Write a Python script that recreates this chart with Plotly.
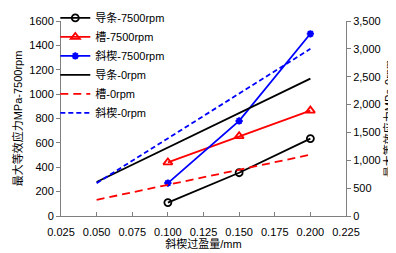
import plotly.graph_objects as go

x_7500 = [0.10, 0.15, 0.20]
x_0 = [0.05, 0.10, 0.15, 0.20]

daotiao_7500 = [110, 355, 635]
cao_7500 = [440, 655, 865]
xiexie_7500 = [270, 780, 1495]

daotiao_0 = [610, 1230, 1850, 2465]
cao_0 = [290, 560, 830, 1100]
xiexie_0 = [590, 1395, 2200, 3000]

x_ticks = [0.025, 0.050, 0.075, 0.100, 0.125, 0.150, 0.175, 0.200, 0.225]

FONT = "Liberation Sans, Noto Sans CJK SC, sans-serif"

fig = go.Figure()
fig.add_trace(go.Scatter(x=x_7500, y=daotiao_7500, name="导条-7500rpm", mode="lines+markers",
                         line=dict(color="black", width=1.8),
                         marker=dict(symbol="circle-open", size=7, color="black", line=dict(width=1.8))))
fig.add_trace(go.Scatter(x=x_7500, y=cao_7500, name="槽-7500rpm", mode="lines+markers",
                         line=dict(color="#ff0000", width=1.8),
                         marker=dict(symbol="triangle-up-open", size=8, color="#ff0000", line=dict(width=1.8))))
fig.add_trace(go.Scatter(x=x_7500, y=xiexie_7500, name="斜楔-7500rpm", mode="lines+markers",
                         line=dict(color="#0000ff", width=1.8),
                         marker=dict(symbol="asterisk-open", size=6, color="#0000ff", line=dict(width=2, color="#0000ff"))))
fig.add_trace(go.Scatter(x=x_0, y=daotiao_0, name="导条-0rpm", mode="lines", yaxis="y2",
                         line=dict(color="black", width=1.8)))
fig.add_trace(go.Scatter(x=x_0, y=cao_0, name="槽-0rpm", mode="lines", yaxis="y2",
                         line=dict(color="#ff0000", width=1.8, dash="8px,5px")))
fig.add_trace(go.Scatter(x=x_0, y=xiexie_0, name="斜楔-0rpm", mode="lines", yaxis="y2",
                         line=dict(color="#0000ff", width=1.8, dash="5px,3px")))

axis_common = dict(showgrid=False, zeroline=False, showline=True, linecolor="#808080", linewidth=1,
                   ticks="outside", ticklen=4, tickcolor="#808080", automargin=False,
                   tickfont=dict(family=FONT, size=11, color="black"))

fig.update_layout(
    width=396, height=253,
    margin=dict(l=53, r=58, t=13, b=45, autoexpand=False),
    paper_bgcolor="white", plot_bgcolor="white",
    font=dict(family=FONT, size=11, color="black"),
    showlegend=True,
    legend=dict(x=-0.02, y=1.09, xanchor="left", yanchor="top", bgcolor="rgba(0,0,0,0)",
                font=dict(family=FONT, size=11, color="black"), traceorder="normal",
                tracegroupgap=0),
    xaxis=dict(range=[0.025, 0.225], tickvals=x_ticks, tickformat=".3f", ticklabelstandoff=6,
               title=dict(text="斜楔过盈量/mm", font=dict(family=FONT, size=11), standoff=2),
               **{**axis_common, "ticks": "inside"}),
    yaxis=dict(range=[0, 1600], dtick=200,
               title=dict(text="最大等效应力MPa-7500rpm", font=dict(family=FONT, size=11), standoff=4),
               **axis_common),
    yaxis2=dict(range=[0, 3500], dtick=500, tickformat=",", overlaying="y", side="right",
                title=dict(text="最大等效应力MPa-0rpm", font=dict(family=FONT, size=11), standoff=5),
                **axis_common),
)

fig.write_html("out.html")
